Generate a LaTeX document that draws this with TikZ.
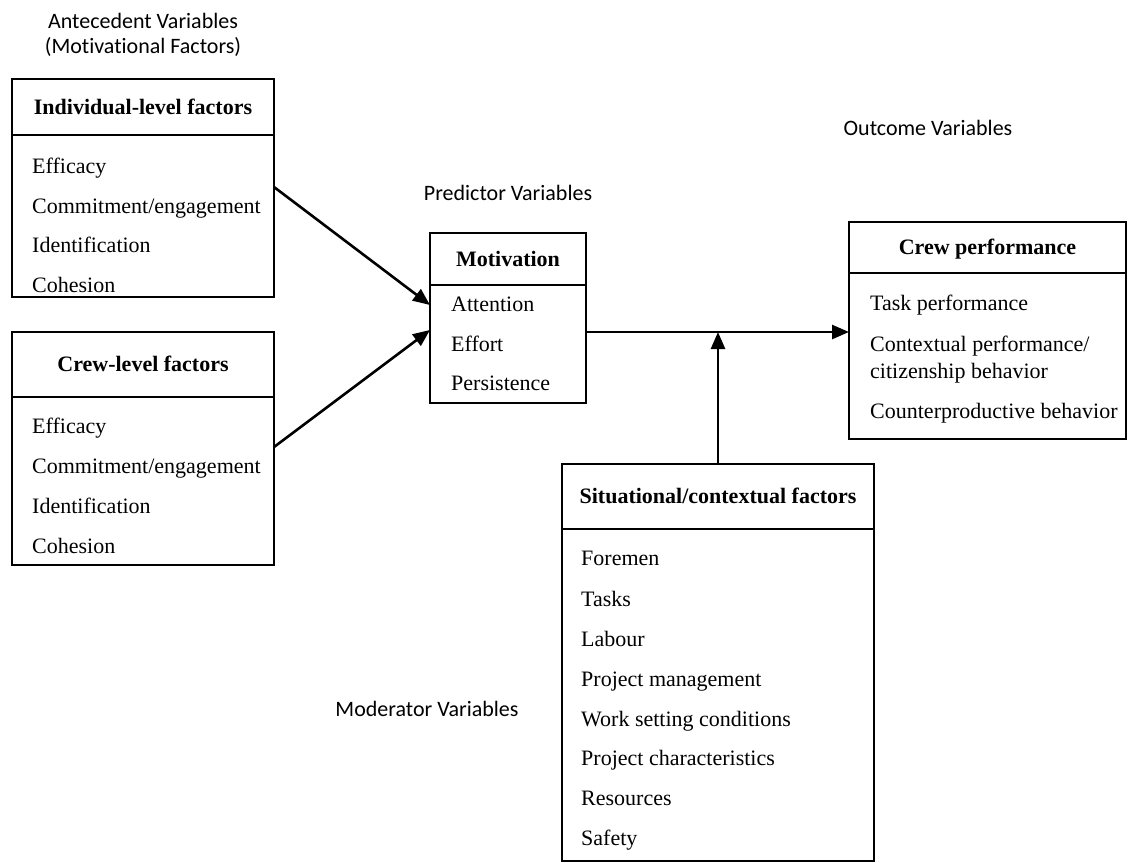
\documentclass[tikz,border=0pt]{standalone}
\usepackage{fontspec}
\setmainfont[Ligatures=NoCommon]{Liberation Serif}
\newfontfamily\labfont[Ligatures=NoCommon]{Carlito}
\usetikzlibrary{arrows.meta,calc}
\begin{document}
\begin{tikzpicture}[x=1bp,y=-1bp,
  box/.style={draw, line width=2.7bp, inner sep=0pt, outer sep=0pt, anchor=north west},
  item/.style={anchor=west, inner sep=0pt, text height=14.5bp, text depth=0pt, font=\fontsize{22bp}{26bp}\selectfont},
  head/.style={inner sep=0pt, text height=14.5bp, text depth=0pt, font=\fontsize{22bp}{26bp}\selectfont\bfseries},
  lab/.style={inner sep=0pt, anchor=base, font=\fontsize{22bp}{26bp}\labfont},
  arr/.style={line width=2.6bp, -{Triangle[length=17bp,width=14bp]}},
]
\useasboundingbox (0,0) rectangle (1128,863);

% labels
\node[lab] (ante1) at (143,28) {Antecedent Variables};
\node[lab] (ante2) at (143,53) {(Motivational Factors)};
\node[lab] (pred) at (508,200) {Predictor Variables};
\node[lab] (outc) at (928,135) {Outcome Variables};
\node[lab] (moder) at (427,716) {Moderator Variables};

% individual-level box
\node[box, minimum width=262bp, minimum height=56bp] (indh) at (12,79) {};
\node[box, minimum width=262bp, minimum height=162bp] (indb) at (12,135) {};
\node[head] (indt) at (indh.center) {Individual-level factors};
\node[item] (i1) at (32,166) {Efficacy};
\node[item] (i2) at (32,206) {Commitment/engagement};
\node[item] (i3) at (32,245) {Identification};
\node[item] (i4) at (32,285) {Cohesion};

% crew-level box
\node[box, minimum width=262bp, minimum height=65bp] (cwh) at (12,332) {};
\node[box, minimum width=262bp, minimum height=168bp] (cwb) at (12,397) {};
\node[head] (cwt) at (cwh.center) {Crew-level factors};
\node[item] (c1) at (32,426) {Efficacy};
\node[item] (c2) at (32,466) {Commitment/engagement};
\node[item] (c3) at (32,506) {Identification};
\node[item] (c4) at (32,546) {Cohesion};

% motivation box
\node[box, minimum width=156bp, minimum height=52bp] (moth) at (430,233) {};
\node[box, minimum width=156bp, minimum height=118bp] (motb) at (430,285) {};
\node[head] (mott) at (moth.center) {Motivation};
\node[item] (m1) at (451,304) {Attention};
\node[item] (m2) at (451,344) {Effort};
\node[item] (m3) at (451,383) {Persistence};

% crew performance box
\node[box, minimum width=277bp, minimum height=51bp] (perfh) at (849,222) {};
\node[box, minimum width=277bp, minimum height=166bp] (perfb) at (849,273) {};
\node[head] (perft) at (perfh.center) {Crew performance};
\node[item] (p1) at (870,303) {Task performance};
\node[item] (p2) at (870,344) {Contextual performance/};
\node[item] (p3) at (870,371) {citizenship behavior};
\node[item] (p4) at (870,411) {Counterproductive behavior};

% situational box
\node[box, minimum width=312bp, minimum height=65bp] (sith) at (562,464) {};
\node[box, minimum width=312bp, minimum height=332bp] (sitb) at (562,529) {};
\node[head] (sitt) at (sith.center) {Situational/contextual factors};
\node[item] (s1) at (581,558) {Foremen};
\node[item] (s2) at (581,599) {Tasks};
\node[item] (s3) at (581,639) {Labour};
\node[item] (s4) at (581,679) {Project management};
\node[item] (s5) at (581,719) {Work setting conditions};
\node[item] (s6) at (581,758) {Project characteristics};
\node[item] (s7) at (581,798) {Resources};
\node[item] (s8) at (581,838) {Safety};

% connectors
\draw[arr] (indb.east |- 0,187) -- (motb.west |- 0,305);
\draw[arr] (cwb.east |- 0,447) -- (motb.west |- 0,330);
\draw[arr] (motb.east |- 0,332) -- (perfb.west |- 0,332);
\coordinate (junc) at (sith.north |- 0,332);
\draw[arr] (sith.north) -- (junc);
\end{tikzpicture}
\end{document}
